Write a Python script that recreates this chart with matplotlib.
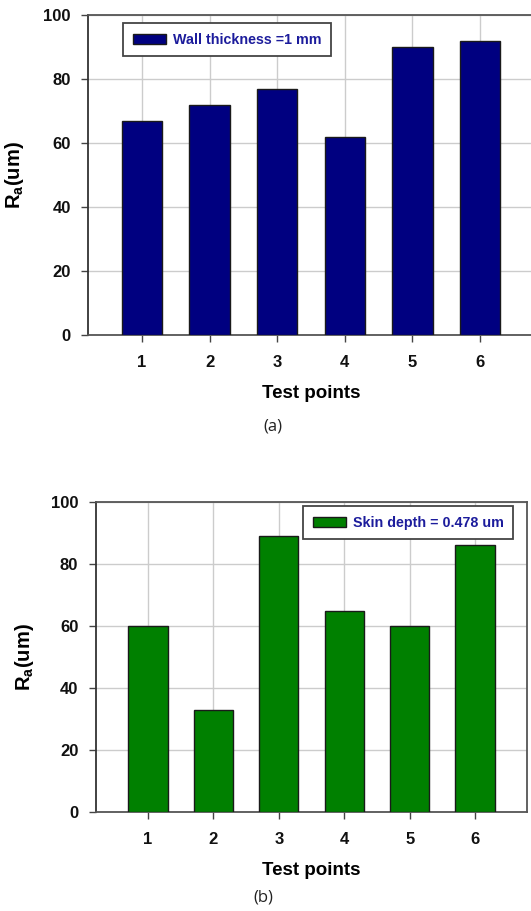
import numpy as np
import matplotlib.pyplot as plt

plt.rcParams['font.family'] = ['Liberation Sans', 'DejaVu Sans']

test_points = [1, 2, 3, 4, 5, 6]
ra_wall = [67, 72, 77, 62, 90, 92]
ra_skin = [60, 33, 89, 65, 60, 86]
yticks = [0, 20, 40, 60, 80, 100]

fig = plt.figure(figsize=(5.31, 9.11), dpi=100)
ax1 = fig.add_axes([88 / 531, 1 - 335 / 911, 446 / 531, 320 / 911])
ax2 = fig.add_axes([95.7 / 531, 1 - 812 / 911, 431.7 / 531, 310 / 911])


def draw_panel(ax, values, color, label, legend_anchor, ylab_x):
    ax.set_axisbelow(True)
    ax.grid(True, color='#cccccc', linewidth=1.0)
    ax.bar(test_points, values, width=0.6, color=color, edgecolor='#1a1a1a',
           linewidth=1.0, label=label, zorder=3)
    ax.set_xlim(0.2, 6.8)
    ax.set_ylim(0, 100)
    ax.set_xticks(test_points)
    ax.set_yticks(yticks)
    ax.tick_params(axis='both', length=5, width=1.0, color='#444444',
                   labelsize=12, labelcolor='#111111')
    ax.tick_params(axis='x', pad=9.5)
    ax.tick_params(axis='y', pad=7.5)
    for t in ax.get_xticklabels() + ax.get_yticklabels():
        t.set_fontweight('bold')
    for s in ax.spines.values():
        s.set_color('#555555')
        s.set_linewidth(1.3)
    ax.spines['left'].set_color('#333333')
    ax.set_ylabel(r'$\mathregular{R_a}$(um)', fontsize=14.5, fontweight='bold')
    ax.yaxis.set_label_coords(ylab_x, 0.5)
    ax.set_xlabel('Test points', fontsize=13.5, fontweight='bold', labelpad=11)
    leg = ax.legend(loc='upper left', bbox_to_anchor=legend_anchor,
                    bbox_transform=fig.transFigure, fancybox=False,
                    framealpha=1, edgecolor='#444444', borderpad=0.68,
                    handlelength=2.3, handleheight=0.7, handletextpad=0.5,
                    borderaxespad=0,
                    prop={'family': 'Liberation Sans', 'weight': 'bold', 'size': 10.3})
    leg.get_frame().set_linewidth(1.3)
    for t in leg.get_texts():
        t.set_color('#1c1c9c')


draw_panel(ax1, ra_wall, '#000080', 'Wall thickness =1 mm',
           (123 / 531, 1 - 23 / 911), (26 - 88) / 446)
draw_panel(ax2, ra_skin, '#008000', 'Skin depth = 0.478 um',
           (303 / 531, 1 - 506 / 911), (36 - 95.7) / 431.7)

fig.text(273 / 531, 1 - 426 / 911, '(a)', ha='center', va='center',
         fontsize=12, family=['Open Sans', 'DejaVu Sans'], color='#222222')
fig.text(263 / 531, 1 - 897 / 911, '(b)', ha='center', va='center',
         fontsize=12, family=['Open Sans', 'DejaVu Sans'], color='#222222')

fig.savefig('out.png', dpi=100)
